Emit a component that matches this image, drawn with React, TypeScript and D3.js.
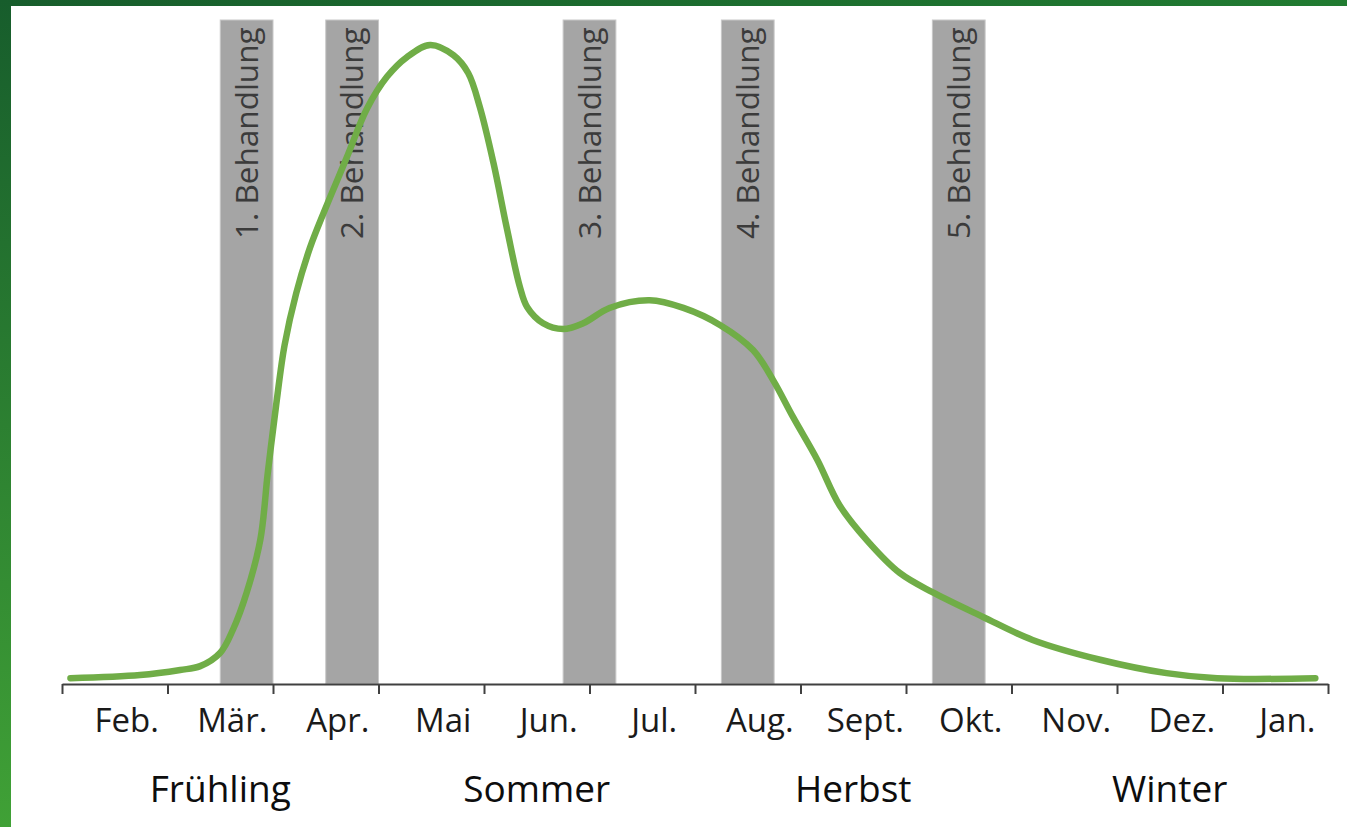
import React, { useRef, useEffect } from 'react';
import * as d3 from 'd3';

const months = ['Feb.', 'Mär.', 'Apr.', 'Mai', 'Jun.', 'Jul.', 'Aug.', 'Sept.', 'Okt.', 'Nov.', 'Dez.', 'Jan.'];
const seasons = ['Frühling', 'Sommer', 'Herbst', 'Winter'];

const treatments = ['1. Behandlung', '2. Behandlung', '3. Behandlung', '4. Behandlung', '5. Behandlung'];
const treatmentStart = [1.5, 2.5, 4.75, 6.25, 8.25];
const treatmentEnd = [2.0, 3.0, 5.25, 6.75, 8.75];

// position in months from the start of Feb., infestation index
const curveMonth = [
    0.08, 0.74, 1.12, 1.31, 1.5, 1.62, 1.75, 1.88, 1.95, 2.03, 2.11, 2.22, 2.35, 2.49, 2.7,
    2.89, 3.08, 3.27, 3.49, 3.71, 3.85, 3.96, 4.09, 4.22, 4.34, 4.41, 4.56, 4.75, 4.94, 5.19, 5.57,
    5.89, 6.24, 6.55, 6.74, 6.93, 7.16, 7.37, 7.63, 7.94, 8.26, 8.73, 9.2, 9.84, 10.47, 10.95, 11.88
];
const curveValue = [
    0.9, 1.4, 2.2, 2.8, 4.9, 8.5, 14.3, 22.6, 33.0, 43.7, 53.1, 61.2, 68.3, 74.2, 82.5,
    90.1, 95.1, 98.2, 100.1, 98.5, 95.7, 90.4, 81.6, 71.1, 62.2, 59.0, 56.5, 55.6, 56.5, 58.9, 60.1,
    58.9, 56.2, 52.3, 47.6, 41.8, 35.1, 28.0, 22.5, 17.4, 14.3, 10.5, 6.9, 3.8, 1.7, 0.9, 0.9
];

const W = 1347, H = 827;
const font = "'Open Sans', sans-serif";

const App = () => {
    const svgRef = useRef(null);

    useEffect(() => {
        const svg = d3.select(svgRef.current);
        svg.selectAll('*').remove();

        const x = d3.scaleLinear().domain([0, 12]).range([62, 1328]);
        const y = d3.scaleLinear().domain([0, 104]).range([684, 20]);

        const defs = svg.append('defs');
        const gTop = defs.append('linearGradient').attr('id', 'topGrad')
            .attr('x1', 0).attr('y1', 0).attr('x2', 1).attr('y2', 0);
        gTop.append('stop').attr('offset', '0%').attr('stop-color', '#175d2c');
        gTop.append('stop').attr('offset', '100%').attr('stop-color', '#217b31');
        const gLeft = defs.append('linearGradient').attr('id', 'leftGrad')
            .attr('x1', 0).attr('y1', 0).attr('x2', 0).attr('y2', 1);
        gLeft.append('stop').attr('offset', '0%').attr('stop-color', '#175d2c');
        gLeft.append('stop').attr('offset', '100%').attr('stop-color', '#40a136');

        svg.append('rect').attr('width', W).attr('height', H).attr('fill', '#ffffff');
        svg.append('rect').attr('width', W).attr('height', 6).attr('fill', 'url(#topGrad)');
        svg.append('rect').attr('width', 11).attr('height', H).attr('fill', 'url(#leftGrad)');

        // treatment bars
        const bars = svg.append('g').selectAll('g').data(treatments).enter().append('g');
        bars.append('rect')
            .attr('x', (d, i) => x(treatmentStart[i]))
            .attr('y', y(104))
            .attr('width', (d, i) => x(treatmentEnd[i]) - x(treatmentStart[i]))
            .attr('height', y(0) - y(104))
            .attr('fill', '#a5a5a5')
            .attr('stroke', '#c8c8c8')
            .attr('stroke-width', 1);
        bars.append('text')
            .attr('transform', (d, i) => {
                const cx = (x(treatmentStart[i]) + x(treatmentEnd[i])) / 2 + 11;
                return 'translate(' + cx + ',239) rotate(-90)';
            })
            .style('font-family', font)
            .style('font-size', '31.5px')
            .style('fill', '#3b3b3b')
            .text(d => d);

        // curve
        const line = d3.line()
            .x(d => x(d[0]))
            .y(d => y(d[1]))
            .curve(d3.curveCatmullRom.alpha(0.5));
        svg.append('path')
            .datum(curveMonth.map((m, i) => [m, curveValue[i]]))
            .attr('d', line)
            .attr('fill', 'none')
            .attr('stroke', '#70ad47')
            .attr('stroke-width', 6.5)
            .attr('stroke-linecap', 'round');

        // axis
        const axis = d3.axisBottom(x)
            .tickValues(d3.range(13))
            .tickSize(10)
            .tickSizeOuter(0)
            .tickFormat(() => '');
        const ax = svg.append('g')
            .attr('transform', 'translate(0,' + y(0) + ')')
            .call(axis);
        ax.select('.domain').attr('stroke', '#404040').attr('stroke-width', 2);
        ax.selectAll('.tick line').attr('stroke', '#404040').attr('stroke-width', 2);

        svg.append('g').selectAll('text').data(months).enter().append('text')
            .attr('x', (d, i) => x(i + 0.5) + 12)
            .attr('y', 732)
            .attr('text-anchor', 'middle')
            .style('font-family', font)
            .style('font-size', '33px')
            .style('fill', '#1a1a1a')
            .text(d => d);

        svg.append('g').selectAll('text').data(seasons).enter().append('text')
            .attr('x', (d, i) => x(i * 3 + 1.5))
            .attr('y', 802)
            .attr('text-anchor', 'middle')
            .style('font-family', font)
            .style('font-size', '37px')
            .style('fill', '#0d0d0d')
            .text(d => d);
    }, []);

    return (
        <svg ref={svgRef} width={W} height={H}
            style={{ position: 'absolute', left: 0, top: 0, display: 'block' }} />
    );
};

export default App;
